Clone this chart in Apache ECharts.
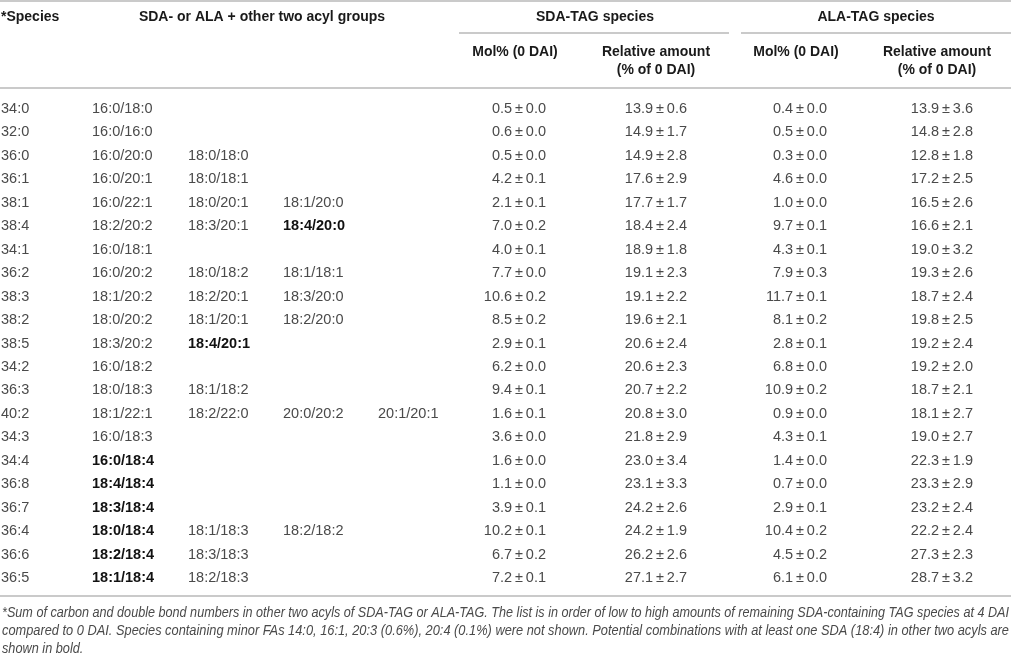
<!DOCTYPE html>
<html><head><meta charset="utf-8">
<script src="https://cdn.jsdelivr.net/npm/echarts@6/dist/echarts.min.js"></script>
<style>html,body{margin:0;padding:0;background:#fff}#c{width:1011px;height:653px}</style>
</head><body><div id="c"></div>
<script>
// ---------- DATA ----------
const species = ['34:0','32:0','36:0','36:1','38:1','38:4','34:1','36:2','38:3','38:2','38:5','34:2','36:3','40:2','34:3','34:4','36:8','36:7','36:4','36:6','36:5'];
const combos = [
  ['16:0/18:0'],
  ['16:0/16:0'],
  ['16:0/20:0','18:0/18:0'],
  ['16:0/20:1','18:0/18:1'],
  ['16:0/22:1','18:0/20:1','18:1/20:0'],
  ['18:2/20:2','18:3/20:1','18:4/20:0'],
  ['16:0/18:1'],
  ['16:0/20:2','18:0/18:2','18:1/18:1'],
  ['18:1/20:2','18:2/20:1','18:3/20:0'],
  ['18:0/20:2','18:1/20:1','18:2/20:0'],
  ['18:3/20:2','18:4/20:1'],
  ['16:0/18:2'],
  ['18:0/18:3','18:1/18:2'],
  ['18:1/22:1','18:2/22:0','20:0/20:2','20:1/20:1'],
  ['16:0/18:3'],
  ['16:0/18:4'],
  ['18:4/18:4'],
  ['18:3/18:4'],
  ['18:0/18:4','18:1/18:3','18:2/18:2'],
  ['18:2/18:4','18:3/18:3'],
  ['18:1/18:4','18:2/18:3']
];
const sdaMolMean = [0.5,0.6,0.5,4.2,2.1,7.0,4.0,7.7,10.6,8.5,2.9,6.2,9.4,1.6,3.6,1.6,1.1,3.9,10.2,6.7,7.2];
const sdaMolSd   = [0.0,0.0,0.0,0.1,0.1,0.2,0.1,0.0,0.2,0.2,0.1,0.0,0.1,0.1,0.0,0.0,0.0,0.1,0.1,0.2,0.1];
const sdaRelMean = [13.9,14.9,14.9,17.6,17.7,18.4,18.9,19.1,19.1,19.6,20.6,20.6,20.7,20.8,21.8,23.0,23.1,24.2,24.2,26.2,27.1];
const sdaRelSd   = [0.6,1.7,2.8,2.9,1.7,2.4,1.8,2.3,2.2,2.1,2.4,2.3,2.2,3.0,2.9,3.4,3.3,2.6,1.9,2.6,2.7];
const alaMolMean = [0.4,0.5,0.3,4.6,1.0,9.7,4.3,7.9,11.7,8.1,2.8,6.8,10.9,0.9,4.3,1.4,0.7,2.9,10.4,4.5,6.1];
const alaMolSd   = [0.0,0.0,0.0,0.0,0.0,0.1,0.1,0.3,0.1,0.2,0.1,0.0,0.2,0.0,0.1,0.0,0.0,0.1,0.2,0.2,0.0];
const alaRelMean = [13.9,14.8,12.8,17.2,16.5,16.6,19.0,19.3,18.7,19.8,19.2,19.2,18.7,18.1,19.0,22.3,23.3,23.2,22.2,27.3,28.7];
const alaRelSd   = [3.6,2.8,1.8,2.5,2.6,2.1,3.2,2.6,2.4,2.5,2.4,2.0,2.1,2.7,2.7,1.9,2.9,2.4,2.4,2.3,3.2];
const headerTop = ['*Species','SDA- or ALA + other two acyl groups','SDA-TAG species','ALA-TAG species'];
const headerSub = ['Mol% (0 DAI)','Relative amount','(% of 0 DAI)'];
const footnote = [
  '*Sum of carbon and double bond numbers in other two acyls of SDA-TAG or ALA-TAG. The list is in order of low to high amounts of remaining SDA-containing TAG species at 4 DAI',
  'compared to 0 DAI. Species containing minor FAs 14:0, 16:1, 20:3 (0.6%), 20:4 (0.1%) were not shown. Potential combinations with at least one SDA (18:4) in other two acyls are',
  'shown in bold.'
];

// ---------- LAYOUT / STYLE ----------
const FONT = '"Liberation Sans", Arial, sans-serif';
const TXT = '#4a4a4a';
const RULE = '#b8b8b8';
const colSpecies = 1;
const colCombo = [92, 188, 283, 378];
const colNum = [546, 687, 827, 973]; // right edges
const fmt = (m, s) => m.toFixed(1) + '\u2009\u00b1\u2009' + s.toFixed(1);

const rows = species.map((s, i) => [i]);

function renderItem(params, api) {
  const i = api.value(0);
  const y = api.coord([0, i])[1];
  const X = v => api.coord([v, i])[0];
  const kids = [];
  const t = (text, x, align, bold) => kids.push({
    type: 'text',
    style: { text, x, y, textAlign: align, textVerticalAlign: 'middle',
      font: (bold ? 'bold ' : '') + '14.5px ' + FONT, fill: bold ? '#111' : TXT }
  });
  t(species[i], X(colSpecies), 'left', false);
  combos[i].forEach((c, k) => t(c, X(colCombo[k]), 'left', c.indexOf('18:4') >= 0));
  t(fmt(sdaMolMean[i], sdaMolSd[i]), X(colNum[0]), 'right', false);
  t(fmt(sdaRelMean[i], sdaRelSd[i]), X(colNum[1]), 'right', false);
  t(fmt(alaMolMean[i], alaMolSd[i]), X(colNum[2]), 'right', false);
  t(fmt(alaRelMean[i], alaRelSd[i]), X(colNum[3]), 'right', false);
  return { type: 'group', children: kids };
}

// measure footnote widths for justified condensed look
const cv = document.createElement('canvas').getContext('2d');
const FN_FONT = 'italic 14px ' + FONT;
cv.font = FN_FONT;
const fullW = 1007;
const s1 = fullW / cv.measureText(footnote[0]).width;
const s2 = fullW / cv.measureText(footnote[1]).width;
const fnScale = [s1, s2, (s1 + s2) / 2];

const H = (text, x, y, align) => ({
  type: 'text', x, y,
  style: { text, textAlign: align, textVerticalAlign: 'middle', font: 'bold 14px ' + FONT, fill: '#1a1a1a' }
});
const L = (x1, y1, x2, y2) => ({
  type: 'line', shape: { x1, y1, x2, y2 }, style: { stroke: RULE, lineWidth: 1.5 }
});

const graphic = [
  L(0, 1, 1011, 1), L(459, 33, 729, 33), L(741, 33, 1011, 33), L(0, 88, 1011, 88), L(0, 596, 1011, 596),
  H(headerTop[0], 1, 17, 'left'),
  H(headerTop[1], 262, 17, 'center'),
  H(headerTop[2], 595, 17, 'center'),
  H(headerTop[3], 876, 17, 'center'),
  H(headerSub[0], 515, 52, 'center'),
  H(headerSub[1], 656, 52, 'center'),
  H(headerSub[2], 656, 70, 'center'),
  H(headerSub[0], 796, 52, 'center'),
  H(headerSub[1], 937, 52, 'center'),
  H(headerSub[2], 937, 70, 'center')
];
footnote.forEach((f, k) => graphic.push({
  type: 'text', x: 2, y: 613 + k * 18, scaleX: fnScale[k],
  style: { text: f, textAlign: 'left', textVerticalAlign: 'middle', font: FN_FONT, fill: TXT }
}));

const chart = echarts.init(document.getElementById('c'));
chart.setOption({
  animation: false,
  grid: { left: 0, right: 0, top: 97.3, height: 492.5 },
  xAxis: { type: 'value', min: 0, max: 1011, show: false },
  yAxis: { type: 'category', data: species, inverse: true, show: false },
  series: [{ type: 'custom', renderItem, data: rows, encode: { y: 0 }, silent: true }],
  graphic
});
</script></body></html>
